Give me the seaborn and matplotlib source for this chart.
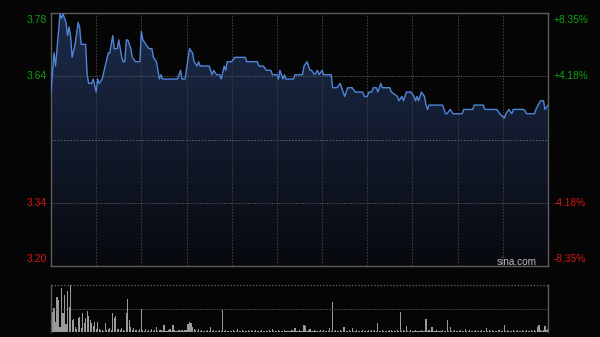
import numpy as np
import matplotlib
matplotlib.use("Agg")
import matplotlib.pyplot as plt
import seaborn as sns
from matplotlib.patches import Polygon
from matplotlib.colors import LinearSegmentedColormap

# ---------------- data ----------------
prev_close = 3.49
price_labels = ["3.78", "3.64", "3.34", "3.20"]
pct_labels = ["+8.35%", "+4.18%", "-4.18%", "-8.35%"]
watermark = "sina.com"

# minutes after 9:30 (HK session, 330 trading minutes) and last price
minutes = [0, 2, 3, 6, 7, 8, 10, 11, 12, 13,
           14, 16, 18, 19, 20, 23, 24, 25, 27, 28,
           30, 31, 32, 34, 36, 38, 39, 41, 42, 44,
           45, 47, 48, 49, 50, 51, 53, 54, 56, 59,
           60, 61, 63, 65, 67, 68, 70, 72, 73, 74,
           84, 86, 87, 89, 92, 94, 95, 97, 98, 99,
           105, 107, 108, 110, 112, 113, 115, 116, 117, 120,
           122, 129, 130, 137, 138, 141, 143, 146, 147, 150,
           151, 152, 153, 154, 155, 156, 161, 162, 167, 168,
           170, 172, 173, 175, 177, 178, 180, 181, 186, 187,
           190, 192, 195, 197, 200, 202, 207, 208, 210, 211,
           213, 214, 216, 217, 219, 220, 225, 226, 230, 231,
           233, 234, 236, 239, 241, 242, 243, 244, 246, 248,
           249, 250, 251, 260, 262, 263, 265, 267, 273, 274,
           280, 281, 287, 288, 296, 298, 301, 302, 304, 306,
           307, 314, 316, 321, 322, 325, 327, 328, 330]
prices = [3.60, 3.69, 3.66, 3.78, 3.77, 3.78, 3.76, 3.73, 3.75, 3.73,
          3.68, 3.71, 3.76, 3.75, 3.71, 3.71, 3.64, 3.62, 3.62, 3.63,
          3.60, 3.63, 3.62, 3.63, 3.66, 3.69, 3.69, 3.73, 3.70, 3.70,
          3.72, 3.68, 3.67, 3.67, 3.72, 3.72, 3.70, 3.68, 3.67, 3.67,
          3.74, 3.72, 3.71, 3.70, 3.70, 3.68, 3.67, 3.63, 3.64, 3.63,
          3.63, 3.65, 3.63, 3.63, 3.70, 3.69, 3.67, 3.66, 3.67, 3.66,
          3.66, 3.64, 3.65, 3.64, 3.64, 3.63, 3.66, 3.65, 3.67, 3.67,
          3.68, 3.68, 3.67, 3.67, 3.66, 3.66, 3.65, 3.65, 3.64, 3.64,
          3.63, 3.65, 3.64, 3.63, 3.64, 3.63, 3.63, 3.64, 3.64, 3.66,
          3.67, 3.65, 3.65, 3.64, 3.65, 3.64, 3.65, 3.64, 3.64, 3.61,
          3.61, 3.62, 3.59, 3.61, 3.61, 3.60, 3.60, 3.59, 3.59, 3.60,
          3.60, 3.61, 3.61, 3.60, 3.62, 3.61, 3.61, 3.60, 3.59, 3.58,
          3.59, 3.58, 3.60, 3.60, 3.59, 3.58, 3.59, 3.58, 3.60, 3.59,
          3.57, 3.56, 3.57, 3.57, 3.55, 3.55, 3.56, 3.55, 3.55, 3.56,
          3.56, 3.57, 3.57, 3.56, 3.56, 3.55, 3.54, 3.55, 3.56, 3.55,
          3.56, 3.56, 3.55, 3.55, 3.56, 3.58, 3.58, 3.56, 3.57]

# per-minute volume (relative units), minute 0..330
volume = [13, 20, 24, 10, 35, 32, 5, 44, 19, 37, 8, 41, 25, 47, 12, 13, 5, 3, 14, 15, 4, 19, 9, 14, 21, 16, 12, 9, 6, 10,
          3, 10, 3, 2, 2, 1, 9, 2, 3, 4, 2, 19, 14, 16, 3, 3, 2, 4, 2, 1, 19, 33, 12, 5, 2, 4, 2, 2, 1, 3,
          23, 2, 1, 3, 1, 2, 1, 3, 1, 2, 5, 1, 2, 2, 1, 7, 1, 1, 2, 3, 1, 7, 2, 1, 1, 2, 1, 2, 1, 2,
          2, 8, 10, 9, 5, 3, 2, 1, 3, 1, 2, 1, 1, 1, 2, 1, 5, 1, 2, 1, 1, 1, 2, 1, 23, 1, 2, 1, 1, 1,
          1, 2, 1, 1, 3, 1, 1, 2, 1, 1, 1, 2, 1, 2, 1, 1, 2, 1, 1, 1, 2, 1, 1, 1, 1, 2, 1, 3, 1, 1,
          1, 2, 1, 1, 1, 2, 1, 1, 1, 1, 2, 1, 4, 1, 1, 2, 1, 1, 7, 6, 1, 2, 3, 1, 1, 2, 1, 1, 1, 2,
          1, 2, 1, 1, 1, 4, 1, 30, 1, 2, 1, 1, 2, 1, 5, 5, 1, 1, 2, 1, 4, 1, 1, 2, 1, 1, 1, 2, 1, 1,
          1, 2, 1, 2, 1, 2, 1, 9, 1, 1, 2, 1, 1, 1, 1, 2, 2, 1, 1, 1, 2, 1, 20, 1, 2, 1, 6, 1, 1, 2,
          1, 1, 2, 1, 1, 1, 2, 1, 1, 13, 1, 2, 1, 5, 1, 1, 2, 1, 1, 1, 2, 1, 1, 12, 1, 5, 1, 1, 2, 1,
          1, 1, 2, 1, 1, 3, 1, 1, 2, 1, 1, 1, 2, 1, 1, 1, 2, 1, 1, 4, 1, 2, 1, 2, 1, 1, 1, 2, 2, 1,
          1, 7, 1, 2, 1, 1, 1, 2, 1, 1, 2, 1, 1, 2, 1, 1, 2, 1, 1, 2, 1, 2, 1, 5, 7, 2, 1, 2, 6, 2, 3]
vol_minutes = list(range(len(volume)))

# ---------------- style ----------------
BG = "#050505"
sns.set_theme(style="dark")
plt.rcParams["font.family"] = ["Liberation Sans", "DejaVu Sans"]
GREEN = "#12a012"
RED = "#d41515"
FRAME = "#5c5c5c"

fig = plt.figure(figsize=(6, 3.37), dpi=100, facecolor=BG)
ax = fig.add_axes([0.085, 0.2098, 0.8283, 0.7507])
axv = fig.add_axes([0.085, 0.0139, 0.8283, 0.1404])
for a in (ax, axv):
    a.set_facecolor(BG)
    a.grid(False)

span = prev_close * 0.0835
lo, hi = prev_close - span, prev_close + span
g = prev_close * 0.0418
T = 330

# gradient fill under the price line
verts = [(minutes[0], lo)] + list(zip(minutes, prices)) + [(minutes[-1], lo)]
poly = Polygon(verts, closed=True, facecolor="none", edgecolor="none")
ax.add_patch(poly)
cmap = LinearSegmentedColormap.from_list("fill", ["#07090e", "#1d2c4c"])
grad = np.linspace(1, 0, 256).reshape(-1, 1)
im = ax.imshow(grad, extent=[0, T, lo, hi], aspect="auto", cmap=cmap,
               origin="upper", zorder=1, interpolation="bilinear")
im.set_clip_path(poly)

# grid
for m in range(30, T, 30):
    ax.axvline(m, color="#3a3a3a", lw=0.8, ls=(0, (1.6, 1.2)), zorder=2)
for y in (prev_close + g, prev_close - g):
    ax.axhline(y, color="#5e5e5e", lw=0.75, ls=(0, (1, 1.3)), zorder=2)
ax.axhline(prev_close, color="#5e5e5e", lw=0.75, ls=(0, (1.5, 1.5)), zorder=2)

sns.lineplot(x=minutes, y=prices, ax=ax, color="#4f86d8", linewidth=1.0, zorder=4)

ax.set_xlim(0, T)
ax.set_ylim(lo, hi)
ax.set_xticks([])
ax.set_yticks([])
ax.set_xlabel("")
ax.set_ylabel("")
for s in ax.spines.values():
    s.set_visible(True)
    s.set_color(FRAME)
    s.set_linewidth(1.0)

# axis labels
ylevels = [hi, prev_close + g, prev_close - g, lo]
vas = ["top", "center", "center", "bottom"]
cols = [GREEN, GREEN, RED, RED]
offs = [-0.006, 0, 0, 0.01]
tr = ax.get_yaxis_transform()
for lvl, lab, pl, va, c, o in zip(ylevels, price_labels, pct_labels, vas, cols, offs):
    yy = lvl + o * (hi - lo)
    ax.text(-0.009, yy, lab, transform=tr, ha="right", va=va, color=c, fontsize=7.5)
    ax.text(1.011, yy, pl, transform=tr, ha="left", va=va, color=c, fontsize=7.3)

ax.text(0.978, 0.006, watermark, transform=ax.transAxes, ha="right", va="baseline",
        color="#b8b8b8", fontsize=7.2, zorder=5)

# volume panel
sns.barplot(x=vol_minutes, y=volume, ax=axv, native_scale=True, color="#9a9a9a",
            saturation=1, width=0.75, linewidth=0, errorbar=None)
axv.set_xlim(0, T)
axv.set_ylim(0, 47)
axv.set_xticks([])
axv.set_yticks([])
axv.set_xlabel("")
axv.set_ylabel("")
axv.axhline(47, color="#5e5e5e", lw=1.0, ls=(0, (1, 1.3)), clip_on=False)
axv.axhline(23.5, color="#5e5e5e", lw=0.75, ls=(0, (1, 1.3)))
for k, s in axv.spines.items():
    if k in ("left", "right"):
        s.set_visible(True)
        s.set_color(FRAME)
        s.set_linewidth(1.0)
    else:
        s.set_visible(False)

fig.savefig("out.png", dpi=100, facecolor=BG)
